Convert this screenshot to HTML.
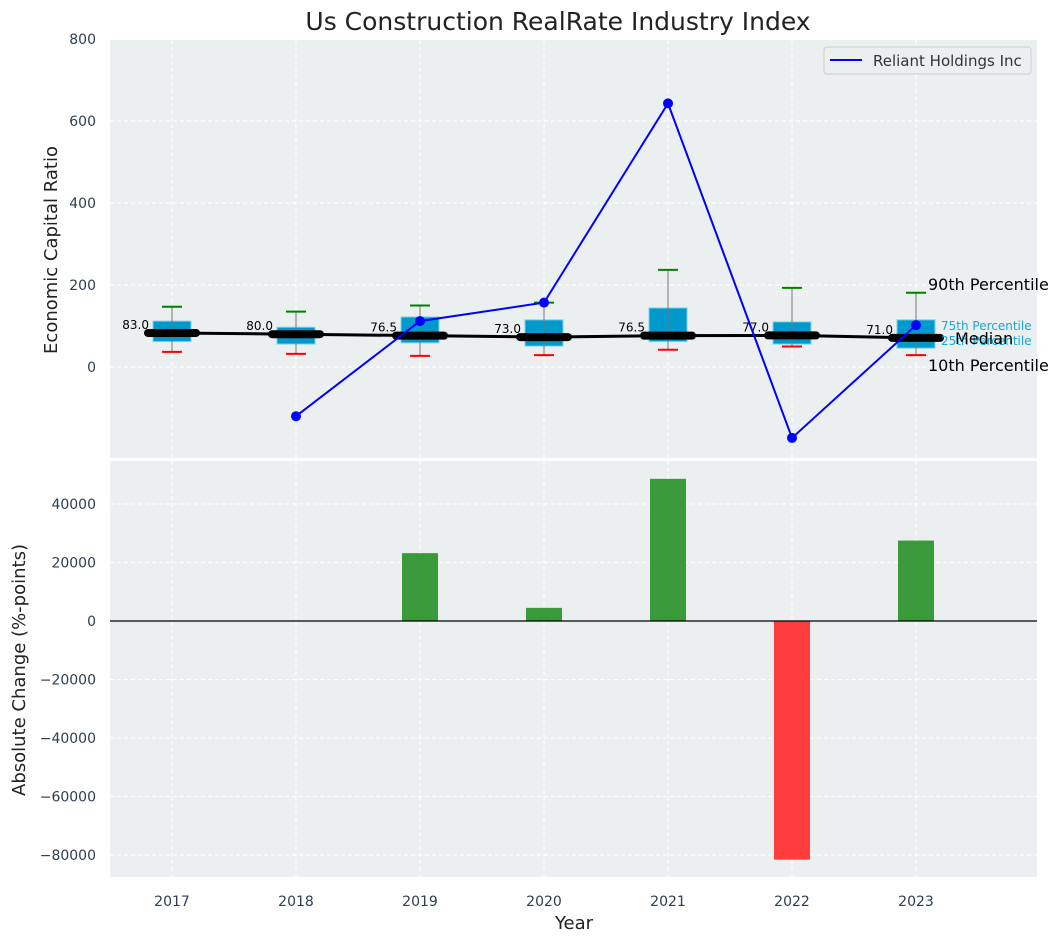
<!DOCTYPE html>
<html><head><meta charset="utf-8"><style>
body{margin:0;background:#fff;}
svg{display:block;font-family:"DejaVu Sans","Liberation Sans",sans-serif;}
</style></head><body>
<svg id="chart" width="1063" height="942" xmlns="http://www.w3.org/2000/svg">
<rect x="110" y="40" width="927" height="418" fill="#ebeff0"/>
<rect x="110" y="461" width="927" height="416" fill="#ebeff0"/>
<g id="grid"></g>
<g id="marks"></g>
<text x="558" y="30" text-anchor="middle" font-size="25" fill="#222">Us Construction RealRate Industry Index</text>
<text transform="translate(57,250) rotate(-90)" text-anchor="middle" font-size="18" fill="#222">Economic Capital Ratio</text>
<text transform="translate(25,670) rotate(-90)" text-anchor="middle" font-size="18" fill="#222">Absolute Change (%-points)</text>
<text x="574" y="929" text-anchor="middle" font-size="18" fill="#222">Year</text>
<g>
<rect x="824" y="47" width="207" height="27" rx="3" fill="#ebeff0" stroke="#ccc"/>
<line x1="830" y1="60" x2="862" y2="60" stroke="#0000ff" stroke-width="2"/>
<text x="873" y="66" font-size="15" fill="#333">Reliant Holdings Inc</text>
</g>
<text x="928" y="290" font-size="16" fill="#000">90th Percentile</text>
<text x="941" y="330" font-size="12" fill="#1ba6d6">75th Percentile</text>
<text x="941" y="345" font-size="12" fill="#1ba6d6">25th Percentile</text>
<text x="955" y="344" font-size="16" fill="#000">Median</text>
<text x="928" y="371" font-size="16" fill="#000">10th Percentile</text>
</svg>
<script>
const years=[2017,2018,2019,2020,2021,2022,2023];
const p10=[37,32,27,29,42,50,29];
const p25=[62,56,59,51,62,56,46];
const median=[83,80,76.5,73,76.5,77,71];
const p75=[112,97,122,115,144,110,115];
const p90=[147,135,150,157,237,193,181];
const companyYears=[2018,2019,2020,2021,2022,2023];
const companyValues=[-120,112,157,643,-173,102];
const changeYears=[2019,2020,2021,2022,2023];
const changeValues=[23200,4500,48600,-81600,27500];
const topTicks=[0,200,400,600,800];
const bottomTicks=[-80000,-60000,-40000,-20000,0,20000,40000];

const NS="http://www.w3.org/2000/svg";
const X=v=>172+(v-2017)*124;
const Y1=v=>367-v*0.41;
const Y2=v=>621-v*58.5/20000;
const grid=document.getElementById('grid'),marks=document.getElementById('marks');
function el(p,tag,a){const e=document.createElementNS(NS,tag);for(const k in a)e.setAttribute(k,a[k]);p.appendChild(e);return e;}
function txt(p,x,y,s,a){const e=el(p,'text',Object.assign({x:x,y:y},a));e.textContent=s;return e;}

years.forEach(yr=>{
  const g1=el(grid,'line',{x1:X(yr),x2:X(yr),y1:40,y2:458,stroke:'#fff','stroke-dasharray':'4,3','stroke-width':1});
  
  
  const g2=el(grid,'line',{x1:X(yr),x2:X(yr),y1:461,y2:877,stroke:'#fff','stroke-dasharray':'4,3','stroke-width':1});
  
  
  const t=txt(grid,X(yr),906,String(yr),{'text-anchor':'middle','font-size':14,fill:'#2c3e50'});
  
  
});
topTicks.forEach(v=>{
  const l=el(grid,'line',{x1:110,x2:1037,y1:Y1(v),y2:Y1(v),stroke:'#fff','stroke-dasharray':'4,3'});
  
  
  const t=txt(grid,96,Y1(v)+5,String(v),{'text-anchor':'end','font-size':14,fill:'#2c3e50'});
  
  
});
bottomTicks.forEach(v=>{
  const l=el(grid,'line',{x1:110,x2:1037,y1:Y2(v),y2:Y2(v),stroke:'#fff','stroke-dasharray':'4,3'});
  
  
  const t=txt(grid,96,Y2(v)+5,(v<0?'\u2212'+(-v):String(v)),{'text-anchor':'end','font-size':14,fill:'#2c3e50'});
  
  
});

// boxes
years.forEach((yr,i)=>{
  const x=X(yr);
  const b=el(marks,'rect',{x:x-19,y:Y1(p75[i]),width:38,height:Y1(p25[i])-Y1(p75[i]),fill:'#0099cc',stroke:'#7fd0ea','stroke-width':1});
  
  
  const w=el(marks,'line',{x1:x,x2:x,y1:Y1(p90[i]),y2:Y1(p10[i]),stroke:'#777','stroke-width':1});
  
  
  const h=el(marks,'line',{x1:x-10,x2:x+10,y1:Y1(p90[i]),y2:Y1(p90[i]),stroke:'#008000','stroke-width':2});
  
  
  const lo=el(marks,'line',{x1:x-10,x2:x+10,y1:Y1(p10[i]),y2:Y1(p10[i]),stroke:'#ff0000','stroke-width':2});
  
  
});
const ml=el(marks,'polyline',{points:years.map((yr,i)=>X(yr)+','+Y1(median[i])).join(' '),fill:'none',stroke:'#000','stroke-width':3});


years.forEach((yr,i)=>{
  const x=X(yr),y=Y1(median[i]);
  const m=el(marks,'line',{x1:x-24,x2:x+24,y1:y,y2:y,stroke:'#000','stroke-width':8,'stroke-linecap':'round'});
  
  
  const t=txt(marks,x-23,y-4,median[i].toFixed(1),{'text-anchor':'end','font-size':12,fill:'#000'});
  
  
});
const cl=el(marks,'polyline',{points:companyYears.map((yr,i)=>X(yr)+','+Y1(companyValues[i])).join(' '),fill:'none',stroke:'#0000ff','stroke-width':2});


companyYears.forEach((yr,i)=>{
  const c=el(marks,'circle',{cx:X(yr),cy:Y1(companyValues[i]),r:5,fill:'#0000ff'});
  
  
});
// bars
changeYears.forEach((yr,i)=>{
  const v=changeValues[i],y0=Y2(0),y=Y2(v);
  const r=el(marks,'rect',{x:X(yr)-18,y:Math.min(y0,y),width:36,height:Math.abs(y-y0),fill:v>=0?'#3a9a3a':'#ff3d3d'});
  
  
});
const z=el(marks,'line',{x1:110,x2:1037,y1:Y2(0),y2:Y2(0),stroke:'#000','stroke-width':1.2});


</script>
</body></html>
